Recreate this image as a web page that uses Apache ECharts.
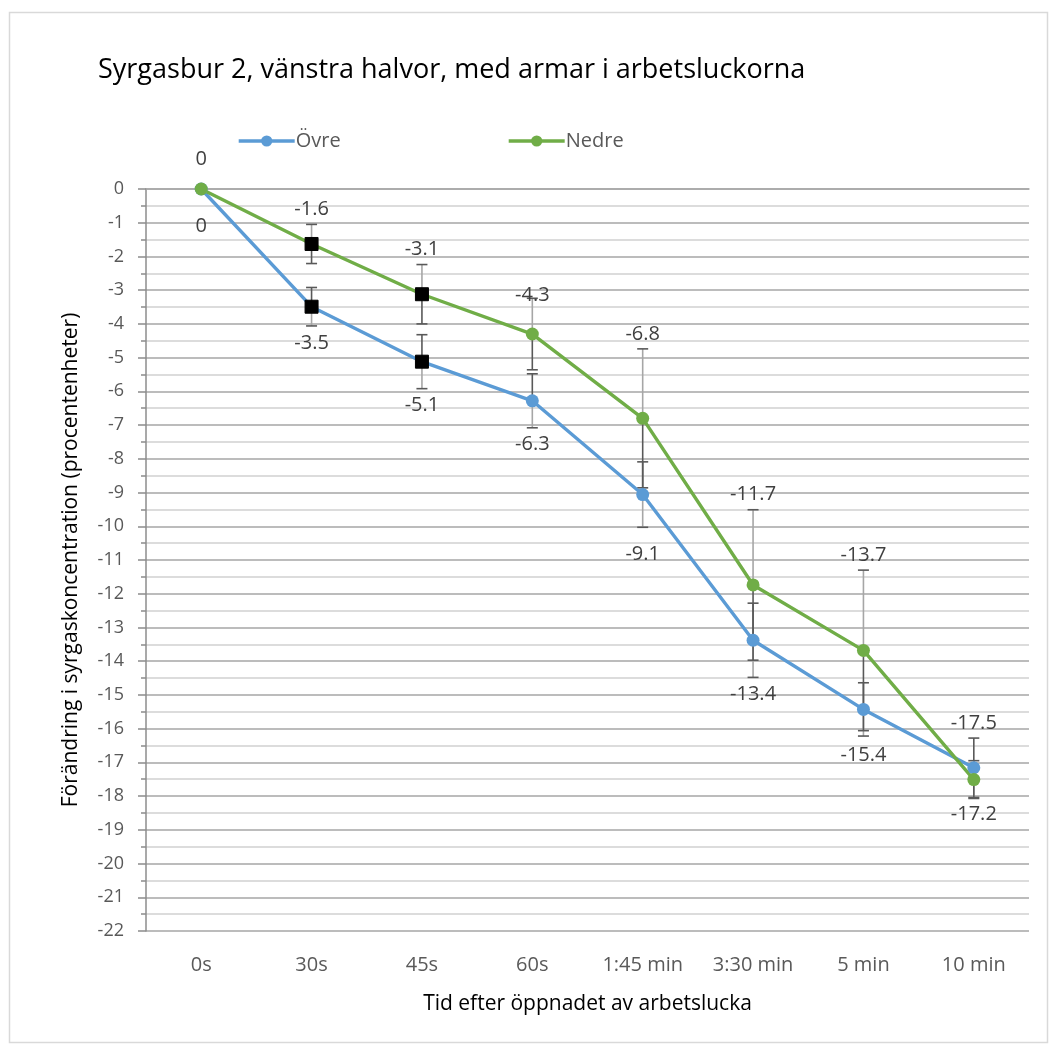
<!DOCTYPE html>
<html>
<head>
<meta charset="utf-8">
<script src="https://cdn.jsdelivr.net/npm/echarts@6/dist/echarts.min.js"></script>
<style>
html,body{margin:0;padding:0;background:#fff;}
#chart{width:1051px;height:1052px;}
</style>
</head>
<body>
<div id="chart"></div>
<script>
// ---- data ----
const categories = ['0s', '30s', '45s', '60s', '1:45 min', '3:30 min', '5 min', '10 min'];
const ovreValues = [0, -3.49, -5.12, -6.28, -9.06, -13.38, -15.43, -17.16];
const nedreValues = [0, -1.63, -3.12, -4.30, -6.80, -11.74, -13.68, -17.51];
const ovreError = [0, 0.57, 0.80, 0.80, 0.97, 1.10, 0.79, 0.88];
const nedreError = [0, 0.58, 0.88, 1.06, 2.06, 2.23, 2.38, 0.56];
const squareMarkerIdx = [1, 2];
const yMin = -22, yMax = 0, yStep = 1;

// ---- style ----
const BLUE = '#5B9BD5', GREEN = '#70AD47';
const DARK = '#595959', LIGHT = '#a6a6a6';
const FONT = "'Open Sans', 'Noto Sans', sans-serif";
// small pixel nudges for data label placement (style only)
const nedreLabelNudge = [-15, 0, 0, 12, 0, 0, 0, -22];
const ovreLabelNudge = [20, 0, 0, 0, 10, 0, 2, 0];

function fmt(v) { return String(Number(v.toFixed(1))); }

function lineData(values) {
  return values.map((v, i) => squareMarkerIdx.includes(i)
    ? { value: v, symbol: 'rect', symbolSize: 13, itemStyle: { color: '#000', borderColor: '#000' } }
    : v);
}

function errData(values, errs) { return values.map((v, i) => [i, v, errs[i]]); }

function errRender(plusColor, minusColor) {
  return function (params, api) {
    const i = api.value(0), v = api.value(1), e = api.value(2);
    if (!e) return { type: 'group', children: [] };
    const p = api.coord([i, v]);
    const t = api.coord([i, v + e]);
    const b = api.coord([i, v - e]);
    const cw = 5.5;
    const ln = (x1, y1, x2, y2, c) => ({ type: 'line', shape: { x1, y1, x2, y2 }, style: { stroke: c, lineWidth: 1.6 } });
    return {
      type: 'group',
      children: [
        ln(p[0], p[1], t[0], t[1], plusColor),
        ln(p[0], p[1], b[0], b[1], minusColor),
        ln(t[0] - cw, t[1], t[0] + cw, t[1], DARK),
        ln(b[0] - cw, b[1], b[0] + cw, b[1], DARK)
      ]
    };
  };
}

function labelRender(side, nudges) {
  return function (params, api) {
    const i = api.value(0), v = api.value(1), e = api.value(2);
    const end = api.coord([i, side === 'top' ? v + e : v - e]);
    const y = end[1] + (side === 'top' ? -15 : 17) + nudges[params.dataIndex];
    return {
      type: 'text',
      x: end[0], y: y,
      style: {
        text: fmt(v), fill: '#404040', fontSize: 20, fontFamily: FONT,
        align: 'center', verticalAlign: 'middle', textAlign: 'center', textVerticalAlign: 'middle'
      }
    };
  };
}

const chart = echarts.init(document.getElementById('chart'), null, { renderer: 'canvas' });

const option = {
  backgroundColor: '#fff',
  animation: false,
  graphic: [{
    type: 'rect', left: 7, top: 10, shape: { width: 1038, height: 1030 },
    style: { fill: 'none', stroke: '#d9d9d9', lineWidth: 1.5 }, silent: true
  }],
  title: {
    text: 'Syrgasbur 2, vänstra halvor, med armar i arbetsluckorna',
    left: 93, top: 52,
    textStyle: { fontFamily: FONT, fontSize: 27, fontWeight: 'normal', color: '#000' }
  },
  legend: [
    { data: ['Övre'], left: 232, top: 126, itemWidth: 56, itemHeight: 14, itemGap: 3,
      lineStyle: { width: 3.4 },
      textStyle: { fontFamily: FONT, fontSize: 20, color: '#595959', padding: [0, 0, 0, -4] } },
    { data: ['Nedre'], left: 502, top: 126, itemWidth: 56, itemHeight: 14, itemGap: 3,
      lineStyle: { width: 3.4 },
      textStyle: { fontFamily: FONT, fontSize: 20, color: '#595959', padding: [0, 0, 0, -4] } }
  ],
  grid: { left: 146, right: 22, top: 189, bottom: 121 },
  xAxis: {
    type: 'category',
    data: categories,
    boundaryGap: true,
    name: 'Tid efter öppnadet av arbetslucka',
    nameLocation: 'middle',
    nameGap: 63,
    nameTextStyle: { fontFamily: FONT, fontSize: 21, color: '#000' },
    axisLine: { lineStyle: { color: '#a6a6a6', width: 1.5 } },
    axisTick: { show: false },
    axisLabel: { fontFamily: FONT, fontSize: 20, color: '#595959', margin: 24 },
    splitLine: { show: false }
  },
  yAxis: {
    type: 'value',
    min: yMin, max: yMax, interval: yStep,
    name: 'Förändring i syrgaskoncentration (procentenheter)',
    nameLocation: 'middle',
    nameGap: 64,
    nameRotate: 90,
    nameTextStyle: { fontFamily: FONT, fontSize: 21, color: '#000' },
    axisLine: { show: true, lineStyle: { color: '#8c8c8c', width: 1.5 } },
    axisTick: { show: true, length: 8, lineStyle: { color: '#8c8c8c', width: 1.5 } },
    minorTick: { show: true, splitNumber: 2, length: 5, lineStyle: { color: '#8c8c8c', width: 1.5 } },
    axisLabel: { fontFamily: FONT, fontSize: 18, color: '#595959', margin: 22 },
    splitLine: { show: true, lineStyle: { color: '#a6a6a6', width: 1.6 } },
    minorSplitLine: { show: true, lineStyle: { color: '#d0d0d0', width: 1.6 } }
  },
  series: [
    {
      name: 'Övre-err', type: 'custom', z: 1, silent: true,
      renderItem: errRender(DARK, LIGHT), data: errData(ovreValues, ovreError)
    },
    {
      name: 'Nedre-err', type: 'custom', z: 1, silent: true,
      renderItem: errRender(LIGHT, DARK), data: errData(nedreValues, nedreError)
    },
    {
      name: 'Övre', type: 'line', z: 2, data: lineData(ovreValues),
      symbol: 'circle', symbolSize: 13, showAllSymbol: true,
      lineStyle: { color: BLUE, width: 3.4 }, itemStyle: { color: BLUE }
    },
    {
      name: 'Nedre', type: 'line', z: 2, data: lineData(nedreValues),
      symbol: 'circle', symbolSize: 13, showAllSymbol: true,
      lineStyle: { color: GREEN, width: 3.4 }, itemStyle: { color: GREEN }
    },
    {
      name: 'Övre-lbl', type: 'custom', z: 5, silent: true,
      renderItem: labelRender('bottom', ovreLabelNudge), data: errData(ovreValues, ovreError)
    },
    {
      name: 'Nedre-lbl', type: 'custom', z: 5, silent: true,
      renderItem: labelRender('top', nedreLabelNudge), data: errData(nedreValues, nedreError)
    }
  ]
};
chart.setOption(option);
</script>
</body>
</html>
